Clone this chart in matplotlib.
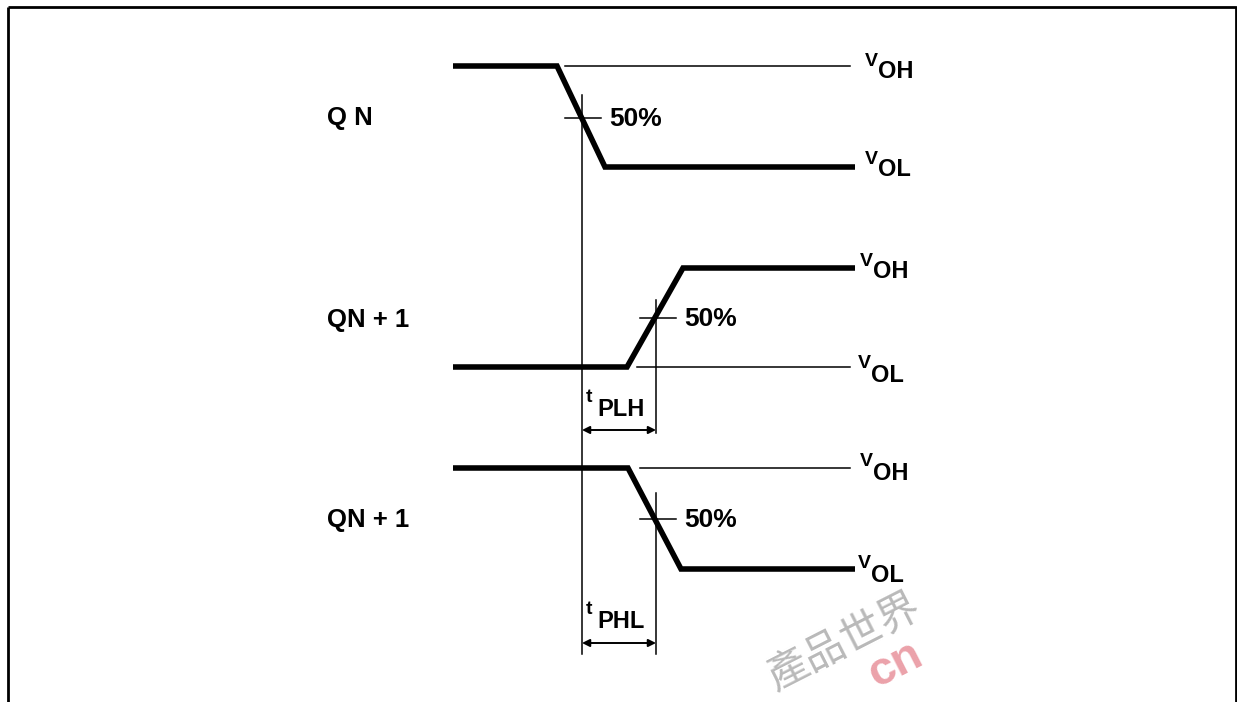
import matplotlib
matplotlib.use("Agg")
import matplotlib.pyplot as plt

# ---- data (drawing units: x = time, y = level position, y grows downward) ----
signal_labels = ["Q N", "QN + 1", "QN + 1"]
signal_label_y = [118, 320, 520]
wave_x = [[453, 557, 605, 855],
          [453, 627, 683, 855],
          [453, 628, 681, 855]]
wave_y = [[66, 66, 167, 167],
          [367, 367, 268, 268],
          [468, 468, 569, 569]]
# thin reference lines (the level the signal is leaving)
ref_x = [[565, 850], [637, 850], [640, 850]]
ref_y = [66, 367, 468]
# 50 % crossings
cross_x = [581, 656, 656]
cross_y = [118, 318, 519]
pct_label = "50%"
# level labels: (subscript text, y of subscript centre)
level_labels = [("OH", 72), ("OL", 170), ("OH", 272), ("OL", 375), ("OH", 473), ("OL", 575)]
level_label_x = [865, 865, 860, 858, 860, 858]
# timing measurements
ref_vline_x = 582
ref_vline_y = [95, 654]
tplh_x = [582, 656]
tplh_arrow_y = 430
tplh_vline_y = [300, 433]
tphl_x = [582, 656]
tphl_arrow_y = 643
tphl_vline_y = [493, 654]
timing_labels = [("PLH", 410), ("PHL", 622)]

fig = plt.figure(figsize=(12.37, 7.02), dpi=100)
ax = fig.add_axes([0, 0, 1, 1])
ax.set_xlim(0, 1237)
ax.set_ylim(702, 0)
ax.axis("off")

FONT = "Liberation Sans"
thick = 4.0
thin = 1.1

# frame (top, left, right)
ax.plot([8, 1236, 1236], [7, 7, 702], color="black", lw=2.0, solid_capstyle="butt")
ax.plot([8, 8], [7, 702], color="black", lw=2.0, solid_capstyle="butt")

# waveforms
for xs, ys in zip(wave_x, wave_y):
    ax.plot(xs, ys, color="black", lw=thick, solid_joinstyle="miter", solid_capstyle="butt")
for xs, y in zip(ref_x, ref_y):
    ax.plot(xs, [y, y], color="black", lw=thin)

# signal names
for lab, y in zip(signal_labels, signal_label_y):
    ax.text(327, y, lab, fontsize=18.5, fontweight="bold", family=FONT,
            ha="left", va="center")

# 50% crossings
for cx, cy in zip(cross_x, cross_y):
    ax.plot([cx - 16, cx + 20], [cy, cy], color="black", lw=thin)
    ax.text(cx + 28, cy + 1, pct_label, fontsize=19, fontweight="bold", family=FONT,
            ha="left", va="center")

# level labels
for (sub, y), x in zip(level_labels, level_label_x):
    ax.text(x, y - 11, "V", fontsize=14, fontweight="bold", family=FONT, ha="left", va="center")
    ax.text(x + 13, y, sub, fontsize=17, fontweight="bold", family=FONT, ha="left", va="center")

# reference vertical line and the short crossing verticals
ax.plot([ref_vline_x, ref_vline_x], ref_vline_y, color="black", lw=thin)
ax.plot([tplh_x[1], tplh_x[1]], tplh_vline_y, color="black", lw=thin)
ax.plot([tphl_x[1], tphl_x[1]], tphl_vline_y, color="black", lw=thin)

# arrows
for xs, y in [(tplh_x, tplh_arrow_y), (tphl_x, tphl_arrow_y)]:
    ax.annotate("", xy=(xs[1], y), xytext=(xs[0], y),
                arrowprops=dict(arrowstyle="<|-|>", color="black", lw=1.4,
                                mutation_scale=11, shrinkA=0, shrinkB=0))

# timing labels
for sub, y in timing_labels:
    ax.text(586, y - 13, "t", fontsize=14, fontweight="bold", family=FONT, ha="left", va="center")
    ax.text(597, y, sub, fontsize=17, fontweight="bold", family=FONT, ha="left", va="center")

# watermark
ax.text(918, 604, "產品世界", fontsize=30, color="#a8a8a8", alpha=0.8,
        family=["Noto Sans CJK TC", "DejaVu Sans"], rotation=27, rotation_mode="anchor",
        ha="right", va="center")
ax.text(876, 688, "cn", fontsize=34, fontweight="bold", color="#e8919b", alpha=0.85,
        family=FONT, rotation=27, rotation_mode="anchor", ha="left", va="baseline")

fig.savefig("out.png", dpi=100)
